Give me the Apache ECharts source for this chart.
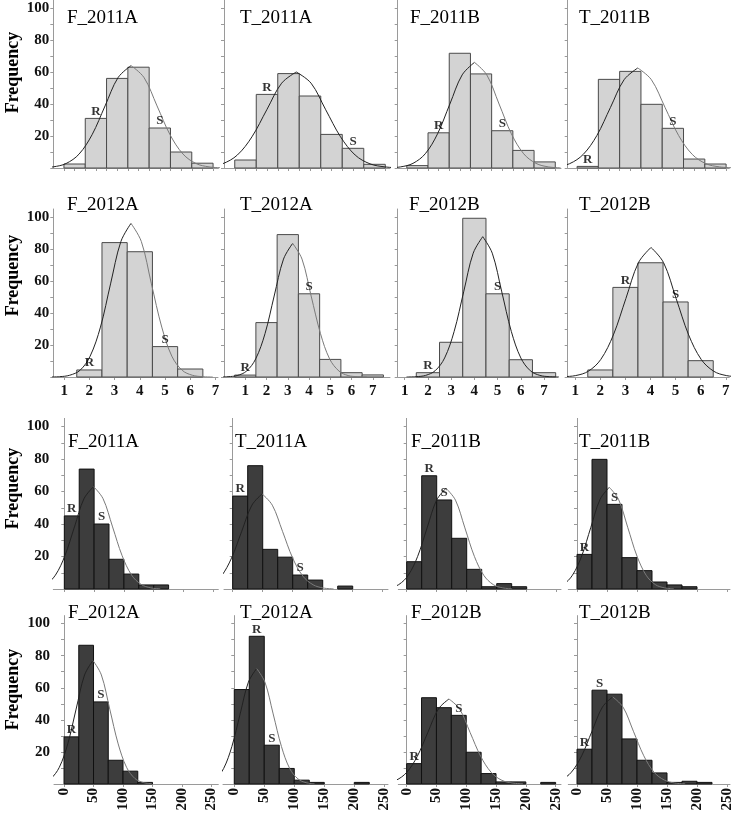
<!DOCTYPE html>
<html><head><meta charset="utf-8">
<script src="https://cdn.jsdelivr.net/npm/echarts@6/dist/echarts.min.js"></script>
<style>html,body{margin:0;padding:0;background:#fff}#c{width:736px;height:819px}</style>
</head><body><div id="c"></div>
<script>
// ---------- data ----------
const likertBins = [1, 2, 3, 4, 5, 6, 7];                       // bin centres, width 1
const volumeBins = [0, 25, 50, 75, 100, 125, 150, 175, 200, 225]; // bin lower edges, width 25
const volumeWidth = 25;

const likertTicks = [0.5, 1, 1.5, 2, 2.5, 3, 3.5, 4, 4.5, 5, 5.5, 6, 6.5, 7, 7.5];
const likertLabels = [1, 2, 3, 4, 5, 6, 7];
const volumeTicks = [0, 50, 100, 150, 200, 250];
const freqTicks = [0, 10, 20, 30, 40, 50, 60, 70, 80, 90, 100];
const freqLabels = [20, 40, 60, 80, 100];

const panelTitles = ['F_2011A', 'T_2011A', 'F_2011B', 'T_2011B', 'F_2012A', 'T_2012A', 'F_2012B', 'T_2012B'];
const markNames = ['R', 'S'];

// light histograms (rating scale 1..7)
const likertF2011A = [2.5, 31, 56, 63, 25, 10, 3];
const likertT2011A = [5, 46, 59, 45, 21, 12.3, 2.3];
const likertF2011B = [1.5, 22, 71.7, 58.8, 23.3, 11, 3.8];
const likertT2011B = [1, 55.4, 60.4, 39.8, 24.8, 5.6, 2.5];
const likertF2012A = [0, 4.4, 84, 78.3, 19, 5, 0];
const likertT2012A = [1.2, 34, 89, 52, 11, 2.7, 1.3];
const likertF2012B = [0, 2.7, 21.7, 99.2, 52, 10.8, 2.7];
const likertT2012B = [0, 4.4, 56, 71.4, 46.9, 10.2, 0];

// dark histograms (0..250)
const volumeF2011A = [45, 73.8, 40, 18.3, 9.2, 2.5, 2.5, 0, 0, 0];
const volumeT2011A = [57.2, 75.9, 24.4, 19.6, 8.6, 5.5, 0, 1.8, 0, 0];
const volumeF2011B = [16.8, 69.7, 54.8, 31.2, 12.1, 1.4, 3.3, 1.4, 0, 0];
const volumeT2011B = [21.3, 79.8, 52.1, 19.3, 11.3, 4.3, 2.5, 1.4, 0, 0];
const volumeF2012A = [29.4, 86.5, 51.2, 14.8, 8, 1, 0, 0, 0, 0];
const volumeT2012A = [58.9, 92.1, 24.2, 9.7, 2.4, 1, 0, 0, 1, 0];
const volumeF2012B = [12.7, 53.8, 47.6, 42.8, 19.8, 6.5, 1.3, 1.3, 0, 1];
const volumeT2012B = [21.7, 58.5, 56, 28.1, 14.8, 6.9, 1, 1.7, 1, 0];

// fitted curves: [x, frequency]
const curveLikertF2011A = [[-0.62,0.1],[-0.01,0.7],[0.60,2.8],[1.21,8.7],[1.82,20.8],[2.43,38.8],[3.04,56.5],[3.65,64],[4.26,56.5],[4.87,38.8],[5.48,20.8],[6.09,8.7],[6.70,2.8],[7.31,0.7],[7.92,0.1]];
const curveLikertT2011A = [[-1.44,0.1],[-0.75,0.7],[-0.07,2.6],[0.62,8.1],[1.30,19.5],[1.99,36.4],[2.68,53.0],[3.36,60],[4.05,53.0],[4.73,36.4],[5.42,19.5],[6.10,8.1],[6.79,2.6],[7.48,0.7],[8.16,0.1]];
const curveLikertF2011B = [[-0.37,0.1],[0.21,0.7],[0.79,2.9],[1.37,8.9],[1.95,21.4],[2.53,40.0],[3.11,58.2],[3.69,66],[4.27,58.2],[4.85,40.0],[5.43,21.4],[6.01,8.9],[6.59,2.9],[7.17,0.7],[7.75,0.1]];
const curveLikertT2011B = [[-1.13,0.1],[-0.49,0.7],[0.15,2.7],[0.79,8.5],[1.43,20.3],[2.07,37.9],[2.71,55.2],[3.35,62.5],[3.99,55.2],[4.63,37.9],[5.27,20.3],[5.91,8.5],[6.55,2.7],[7.19,0.7],[7.83,0.1]];
const curveLikertF2012A = [[0.41,0],[0.82,0.2],[1.22,1.1],[1.63,4.2],[2.03,13.0],[2.44,31.2],[2.84,58.2],[3.25,84.7],[3.65,96],[4.06,84.7],[4.46,58.2],[4.87,31.2],[5.27,13.0],[5.68,4.2],[6.08,1.1],[6.49,0.2],[6.89,0]];
const curveLikertT2012A = [[-0.25,0],[0.19,0.2],[0.62,0.9],[1.06,3.7],[1.49,11.3],[1.93,27.1],[2.36,50.6],[2.80,73.7],[3.23,83.5],[3.67,73.7],[4.10,50.6],[4.54,27.1],[4.97,11.3],[5.41,3.7],[5.84,0.9],[6.28,0.2],[6.71,0]];
const curveLikertF2012B = [[1.08,0],[1.49,0.2],[1.90,1.0],[2.31,3.9],[2.72,11.9],[3.13,28.5],[3.54,53.2],[3.95,77.4],[4.36,87.7],[4.77,77.4],[5.18,53.2],[5.59,28.5],[6.00,11.9],[6.41,3.9],[6.82,1.0],[7.23,0.2],[7.64,0]];
const curveLikertT2012B = [[0.02,0],[0.52,0.2],[1.02,0.9],[1.52,3.6],[2.02,11.0],[2.52,26.3],[3.02,49.1],[3.52,71.5],[4.02,81],[4.52,71.5],[5.02,49.1],[5.52,26.3],[6.02,11.0],[6.52,3.6],[7.02,0.9],[7.52,0.2],[8.02,0]];

const curveVolumeF2011A = [[-63,0.1],[-47,0.7],[-31,2.8],[-15,8.5],[1,20.5],[17,38.2],[33,55.6],[49,63],[65,55.6],[81,38.2],[97,20.5],[113,8.5],[129,2.8],[145,0.7],[161,0.1]];
const curveVolumeT2011A = [[-70,0.1],[-53,0.6],[-36,2.6],[-19,7.9],[-2,19.0],[15,35.5],[32,51.6],[49,58.5],[66,51.6],[83,35.5],[100,19.0],[117,7.9],[134,2.6],[151,0.6],[168,0.1]];
const curveVolumeF2011B = [[-44.8,0.1],[-29.0,0.7],[-13.3,2.7],[2.5,8.4],[18.3,20.1],[34.0,37.6],[49.8,54.7],[65.5,62],[81.3,54.7],[97.0,37.6],[112.8,20.1],[128.5,8.4],[144.3,2.7],[160.0,0.7],[175.8,0.1]];
const curveVolumeT2011B = [[-53.7,0.1],[-38.3,0.7],[-22.9,2.7],[-7.6,8.5],[7.8,20.3],[23.1,38.0],[38.5,55.2],[53.8,62.6],[69.2,55.2],[84.5,38.0],[99.9,20.3],[115.2,8.5],[130.6,2.7],[145.9,0.7],[161.3,0.1]];
const curveVolumeF2012A = [[-50.8,0.2],[-36.5,0.9],[-22.3,3.4],[-8.0,10.4],[6.3,25.0],[20.5,46.7],[34.8,68.0],[49,77],[63.3,68.0],[77.5,46.7],[91.8,25.0],[106,10.4],[120.3,3.4],[134.5,0.9],[148.8,0.2]];
const curveVolumeT2012A = [[-59.0,0.2],[-45.2,0.8],[-31.5,3.2],[-17.7,9.7],[-4.0,23.4],[9.8,43.7],[23.5,63.5],[37.3,72],[51.1,63.5],[64.8,43.7],[78.6,23.4],[92.3,9.7],[106.1,3.2],[119.8,0.8],[133.6,0.2]];
const curveVolumeF2012B = [[-53.3,0.1],[-35.5,0.6],[-17.8,2.3],[0,7.2],[17.8,17.2],[35.5,32.1],[53.3,46.8],[71,53],[88.8,46.8],[106.5,32.1],[124.3,17.2],[142,7.2],[159.8,2.3],[177.5,0.6],[195.3,0.1]];
const curveVolumeT2012B = [[-61.3,0.1],[-44.0,0.6],[-26.8,2.4],[-9.5,7.3],[7.8,17.6],[25.0,32.9],[42.3,47.9],[59.5,54.3],[76.8,47.9],[94.0,32.9],[111.3,17.6],[128.5,7.3],[145.8,2.4],[163.0,0.6],[180.3,0.1]];

// bin index carrying the R and S marks
const marksLikertF2011A = [1, 4], marksLikertT2011A = [1, 5], marksLikertF2011B = [1, 4], marksLikertT2011B = [0, 4];
const marksLikertF2012A = [1, 4], marksLikertT2012A = [0, 3], marksLikertF2012B = [1, 4], marksLikertT2012B = [2, 4];
const marksVolumeF2011A = [0, 2], marksVolumeT2011A = [0, 4], marksVolumeF2011B = [1, 2], marksVolumeT2011B = [0, 2];
const marksVolumeF2012A = [0, 2], marksVolumeT2012A = [1, 2], marksVolumeF2012B = [0, 3], marksVolumeT2012B = [0, 1];

// ---------- layout ----------
const SERIF = '"Liberation Serif","Times New Roman",serif';
const rowTop = [0, 209, 418.4, 615.6];
const rowHeight = [168, 168, 170.6, 168.4];
const titleY = [18, 205, 442, 613];
const freqY = [72.5, 275.5, 488.5, 689.5];

const panels = [
  // row 0
  {row:0, title:panelTitles[0], kind:'likert', counts:likertF2011A, curve:curveLikertF2011A, marks:marksLikertF2011A, left:53.3, width:165.1, xmin:0, xmax:7.75, tx:67, grayTail:true},
  {row:0, title:panelTitles[1], kind:'likert', counts:likertT2011A, curve:curveLikertT2011A, marks:marksLikertT2011A, left:224, width:166, xmin:0, xmax:7.72, tx:240, grayTail:false},
  {row:0, title:panelTitles[2], kind:'likert', counts:likertF2011B, curve:curveLikertF2011B, marks:marksLikertF2011B, left:397.7, width:163.3, xmin:0.07, xmax:7.77, tx:410, grayTail:true},
  {row:0, title:panelTitles[3], kind:'likert', counts:likertT2011B, curve:curveLikertT2011B, marks:marksLikertT2011B, left:567.7, width:161.6, xmin:0.06, xmax:7.65, tx:579, grayTail:true},
  // row 1
  {row:1, title:panelTitles[4], kind:'likert', counts:likertF2012A, curve:curveLikertF2012A, marks:marksLikertF2012A, left:53.3, width:164.7, xmin:0.57, xmax:7.1, tx:67, grayTail:true},
  {row:1, title:panelTitles[5], kind:'likert', counts:likertT2012A, curve:curveLikertT2012A, marks:marksLikertT2012A, left:224, width:166, xmin:0, xmax:7.81, tx:240, grayTail:true},
  {row:1, title:panelTitles[6], kind:'likert', counts:likertF2012B, curve:curveLikertF2012B, marks:marksLikertF2012B, left:397.7, width:160.3, xmin:0.7, xmax:7.6, tx:409, grayTail:false},
  {row:1, title:panelTitles[7], kind:'likert', counts:likertT2012B, curve:curveLikertT2012B, marks:marksLikertT2012B, left:567.7, width:161.6, xmin:0.7, xmax:7.14, tx:579, grayTail:false},
  // row 2
  {row:2, title:panelTitles[0], kind:'volume', counts:volumeF2011A, curve:curveVolumeF2011A, marks:marksVolumeF2011A, left:53.3, width:165, xmin:-18.5, xmax:258.4, tx:68, grayTail:true},
  {row:2, title:panelTitles[1], kind:'volume', counts:volumeT2011A, curve:curveVolumeT2011A, marks:marksVolumeT2011A, left:224, width:164, xmin:-14.5, xmax:258.8, tx:235, grayTail:true},
  {row:2, title:panelTitles[2], kind:'volume', counts:volumeF2011B, curve:curveVolumeF2011B, marks:marksVolumeF2011B, left:398.3, width:162.7, xmin:-14, xmax:257.2, tx:411, grayTail:true},
  {row:2, title:panelTitles[3], kind:'volume', counts:volumeT2011B, curve:curveVolumeT2011B, marks:marksVolumeT2011B, left:568.3, width:161.7, xmin:-14.5, xmax:255, tx:579, grayTail:true},
  // row 3
  {row:3, title:panelTitles[4], kind:'volume', counts:volumeF2012A, curve:curveVolumeF2012A, marks:marksVolumeF2012A, left:54, width:164.3, xmin:-17, xmax:261.5, tx:68, grayTail:true},
  {row:3, title:panelTitles[5], kind:'volume', counts:volumeT2012A, curve:curveVolumeT2012A, marks:marksVolumeT2012A, left:223, width:165, xmin:-18.8, xmax:256.2, tx:240, grayTail:true},
  {row:3, title:panelTitles[6], kind:'volume', counts:volumeF2012B, curve:curveVolumeF2012B, marks:marksVolumeF2012B, left:398.3, width:162.7, xmin:-14, xmax:259, tx:411, grayTail:true},
  {row:3, title:panelTitles[7], kind:'volume', counts:volumeT2012B, curve:curveVolumeT2012B, marks:marksVolumeT2012B, left:568.3, width:161.7, xmin:-14.5, xmax:255, tx:579, grayTail:true}
];

const grids = [], xAxes = [], yAxes = [], series = [], graphics = [];
const axisGray = '#9a9a9a';

panels.forEach((p, i) => {
  const firstCol = (i % 4) === 0;
  const light = p.kind === 'likert';
  grids.push({left: p.left, top: rowTop[p.row], width: p.width, height: rowHeight[p.row],
              containLabel: false, outerBoundsMode: 'none'});

  let ticks, labels, rotate = 0, margin = 6;
  if (p.row === 0) { ticks = likertTicks; labels = null; }
  else if (p.row === 1) { ticks = likertLabels; labels = likertLabels; margin = 7; }
  else if (p.row === 2) { ticks = volumeTicks; labels = null; }
  else { ticks = volumeTicks; labels = volumeTicks; rotate = 90; margin = 4; }

  xAxes.push({
    type: 'value', gridIndex: i, min: p.xmin, max: p.xmax,
    axisLine: {show: true, onZero: false, lineStyle: {color: axisGray, width: 1}},
    axisTick: {show: true, length: 3, customValues: ticks, lineStyle: {color: axisGray}},
    axisLabel: labels ? {show: true, customValues: labels, rotate: rotate, margin: margin,
      fontFamily: SERIF, fontWeight: 'bold', fontSize: 15, color: '#111'} : {show: false},
    splitLine: {show: false}
  });
  yAxes.push({
    type: 'value', gridIndex: i, min: 0, max: 105,
    axisLine: {show: true, lineStyle: {color: axisGray, width: 1}},
    axisTick: {show: true, length: 3, customValues: freqTicks, lineStyle: {color: axisGray}},
    axisLabel: firstCol ? {show: true, customValues: freqLabels, margin: 4,
      fontFamily: SERIF, fontWeight: 'bold', fontSize: 15, color: '#111'} : {show: false},
    splitLine: {show: false}
  });

  // bars
  const barData = [];
  p.counts.forEach((c, k) => {
    if (c <= 0) return;
    if (light) barData.push([likertBins[k] - 0.5, likertBins[k] + 0.5, c]);
    else barData.push([volumeBins[k], volumeBins[k] + volumeWidth, c]);
  });
  const fill = light ? '#d3d3d3' : '#3d3d3d';
  const stroke = light ? '#4a4a4a' : '#111111';
  series.push({
    type: 'custom', xAxisIndex: i, yAxisIndex: i, data: barData, silent: true,
    encode: {x: [0, 1], y: 2},
    renderItem: function (params, api) {
      const a = api.coord([api.value(0), api.value(2)]);
      const b = api.coord([api.value(1), 0]);
      return {type: 'rect', shape: {x: a[0], y: a[1], width: b[0] - a[0], height: b[1] - a[1]},
              style: {fill: fill, stroke: stroke, lineWidth: 1}};
    }
  });

  // fitted curve: rising half dark, falling half (optionally) lighter grey
  let peak = 0;
  p.curve.forEach((pt, k) => { if (pt[1] > p.curve[peak][1]) peak = k; });
  series.push({
    type: 'line', xAxisIndex: i, yAxisIndex: i, data: p.curve.slice(0, peak + 1), smooth: 0.35,
    symbol: 'none', clip: true, silent: true, z: 3,
    lineStyle: {color: '#222222', width: 1}
  });
  series.push({
    type: 'line', xAxisIndex: i, yAxisIndex: i, data: p.curve.slice(peak), smooth: 0.35,
    symbol: 'none', clip: true, silent: true, z: 3,
    lineStyle: {color: p.grayTail ? '#7a7a7a' : '#222222', width: 1}
  });

  // R / S marks
  const markData = p.marks.map((k, j) => {
    const x = light ? likertBins[k] : volumeBins[k] + volumeWidth / 2;
    return {name: markNames[j], value: [x, p.counts[k]]};
  });
  series.push({
    type: 'scatter', xAxisIndex: i, yAxisIndex: i, data: markData, symbolSize: 1, silent: true, z: 4,
    itemStyle: {color: 'transparent'},
    label: {show: true, position: 'top', distance: 0, formatter: '{b}',
      fontFamily: SERIF, fontWeight: 'bold', fontSize: 13, color: '#000'}
  });

  // panel title
  graphics.push({type: 'text', x: p.tx, y: titleY[p.row], z: 10,
    style: {text: p.title, font: '19px ' + SERIF, fill: '#000', textAlign: 'left',
            textVerticalAlign: 'middle', verticalAlign: 'middle'}});
});

// "Frequency" axis titles
freqY.forEach(y => {
  graphics.push({type: 'text', x: 13, y: y, rotation: Math.PI / 2, z: 10,
    style: {text: 'Frequency', font: 'bold 18px ' + SERIF, fill: '#000', textAlign: 'center',
            textVerticalAlign: 'middle', verticalAlign: 'middle'}});
});

const chart = echarts.init(document.getElementById('c'), null, {renderer: 'canvas'});
chart.setOption({
  animation: false,
  backgroundColor: '#fff',
  grid: grids, xAxis: xAxes, yAxis: yAxes, series: series, graphic: graphics
});
</script>
</body></html>
